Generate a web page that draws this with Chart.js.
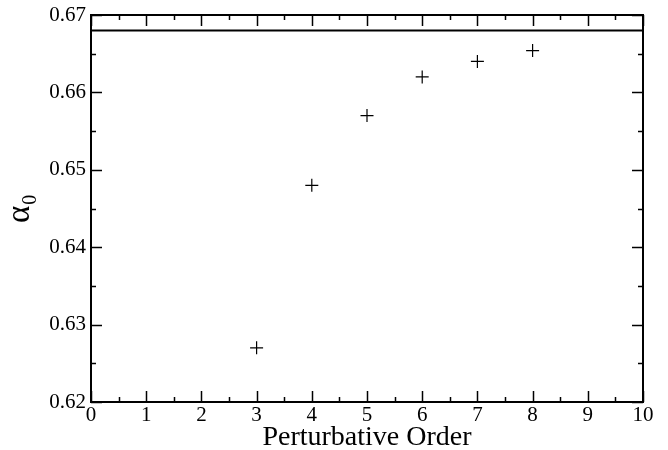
<!DOCTYPE html>
<html><head><meta charset="utf-8">
<script src="https://cdn.jsdelivr.net/npm/chart.js@4.4.0/dist/chart.umd.min.js"></script>
<style>html,body{margin:0;padding:0;background:#fff}#wrap{width:668px;height:450px}</style>
</head><body><div id="wrap"><canvas id="c" width="668" height="450"></canvas></div>
<script>
const orders = [3, 4, 5, 6, 7, 8];
const alphaValues = [0.627, 0.648, 0.657, 0.662, 0.664, 0.6654];
const limitValue = 0.668;
const xRange = [0, 10];
const yRange = [0.62, 0.67];
const xTitle = 'Perturbative Order';
const yTitle = 'α₀';

const FONT = "'Liberation Serif', 'Times New Roman', serif";

const tickPlugin = {
  id: 'inTicks',
  afterDraw(chart) {
    const ctx = chart.ctx, a = chart.chartArea;
    const xs = chart.scales.x, ys = chart.scales.y;
    ctx.save();
    ctx.strokeStyle = '#000';
    ctx.lineWidth = 1.5;
    xs.ticks.forEach(t => {
      const px = Math.round(xs.getPixelForValue(t.value)) + 0.5;
      const major = Math.abs(t.value - Math.round(t.value)) < 1e-9;
      const len = major ? 11 : 5;
      ctx.beginPath();
      ctx.moveTo(px, a.bottom); ctx.lineTo(px, a.bottom - len);
      ctx.moveTo(px, a.top); ctx.lineTo(px, a.top + len);
      ctx.stroke();
    });
    ys.ticks.forEach(t => {
      const py = Math.round(ys.getPixelForValue(t.value)) + 0.5;
      const q = t.value / 0.01;
      const major = Math.abs(q - Math.round(q)) < 1e-6;
      const len = major ? 11 : 5;
      ctx.beginPath();
      ctx.moveTo(a.left, py); ctx.lineTo(a.left + len, py);
      ctx.moveTo(a.right, py); ctx.lineTo(a.right - len, py);
      ctx.stroke();
    });
    ctx.lineWidth = 2;
    ctx.strokeRect(a.left, a.top, a.right - a.left, a.bottom - a.top);
    ctx.restore();
  }
};

new Chart(document.getElementById('c'), {
  type: 'scatter',
  data: {
    datasets: [
      {
        type: 'line',
        data: [{x: xRange[0], y: limitValue}, {x: xRange[1], y: limitValue}],
        borderColor: '#000', borderWidth: 2, pointRadius: 0, fill: false
      },
      {
        data: orders.map((o, i) => ({x: o, y: alphaValues[i]})),
        pointStyle: 'cross', pointRadius: 6.5, borderColor: '#000',
        backgroundColor: '#000', borderWidth: 1.2, pointHoverRadius: 6.5
      }
    ]
  },
  options: {
    responsive: false, animation: false,
    layout: {padding: {left: 0, right: 25, top: 15, bottom: 0}},
    plugins: {legend: {display: false}, tooltip: {enabled: false}},
    scales: {
      x: {
        type: 'linear', min: xRange[0], max: xRange[1],
        afterFit(s) { s.height = 48; },
        grid: {display: false, drawTicks: false},
        border: {display: false},
        ticks: {
          stepSize: 0.5, padding: 1, color: '#000', maxRotation: 0, autoSkip: false,
          font: {family: FONT, size: 21},
          callback: v => Math.abs(v - Math.round(v)) < 1e-9 ? String(Math.round(v)) : ''
        },
        title: {display: true, text: xTitle, color: '#000', padding: {top: 0, bottom: -4},
          font: {family: FONT, size: 28}}
      },
      y: {
        type: 'linear', min: yRange[0], max: yRange[1],
        afterFit(s) { s.width = 91; s.paddingTop = 0; s.paddingBottom = 0; },
        grid: {display: false, drawTicks: false},
        border: {display: false},
        ticks: {
          stepSize: 0.005, padding: 5, color: '#000', autoSkip: false,
          font: {family: FONT, size: 21},
          callback: v => { const q = v / 0.01; return Math.abs(q - Math.round(q)) < 1e-6 ? v.toFixed(2) : ''; }
        },
        title: {display: true, text: yTitle, color: '#000', padding: {top: 1, bottom: 0},
          font: {family: FONT, size: 33}}
      }
    }
  },
  plugins: [tickPlugin]
});
</script>
</body></html>
